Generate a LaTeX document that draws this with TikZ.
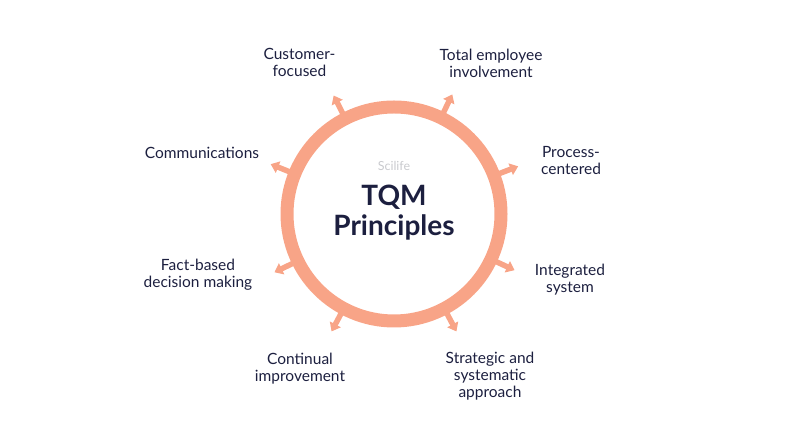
\documentclass[tikz,border=0pt]{standalone}
\usepackage{fontspec}
\setmainfont{Lato}
\usetikzlibrary{arrows.meta,calc}
\definecolor{ring}{HTML}{F8A487}
\definecolor{ink}{HTML}{1C1F3F}
\definecolor{faint}{HTML}{C9CACE}
\tikzset{
  lbl/.style={align=center,text=ink,font=\fontsize{15.5}{17}\selectfont,inner sep=0pt},
  spoke/.style={draw=ring,line width=5.5pt,-{Triangle[length=8pt,width=12pt]}},
}
\begin{document}
\begin{tikzpicture}[x=1pt,y=1pt]
\useasboundingbox (0,0) rectangle (789,443);
\coordinate (c) at (394,229);
\draw[ring,line width=13pt] (c) circle (107);
\foreach \a/\n in {117/a,64/b,21/c,-25/d,-62/e,-118/f,-154/g,158/h}{
  \coordinate (s\n) at ($(c)+(\a:110)$);
  \coordinate (t\n) at ($(c)+(\a:133)$);
  \draw[spoke] (s\n) -- (t\n);
}
\node[font=\fontsize{12.5}{14}\selectfont,text=faint] (sci) at (394,277) {Scilife};
\node[font=\fontsize{28}{30}\selectfont\bfseries,text=ink,align=center,inner sep=0pt] (title) at (394,230) {TQM\\Principles};
\node[lbl] (l1) at (299.5,380.5) {Customer-\\focused};
\node[lbl] (l2) at (491,379.5) {Total employee\\involvement};
\node[lbl] (l3) at (571,282.5) {Process-\\centered};
\node[lbl] (l4) at (570,163) {Integrated\\system};
\node[lbl] (l5) at (490,66.5) {Strategic and\\systematic\\approach};
\node[lbl] (l6) at (300,74) {Continual\\improvement};
\node[lbl] (l7) at (198,168) {Fact-based\\decision making};
\node[lbl] (l8) at (202,290.3) {Communications};
\end{tikzpicture}
\end{document}
